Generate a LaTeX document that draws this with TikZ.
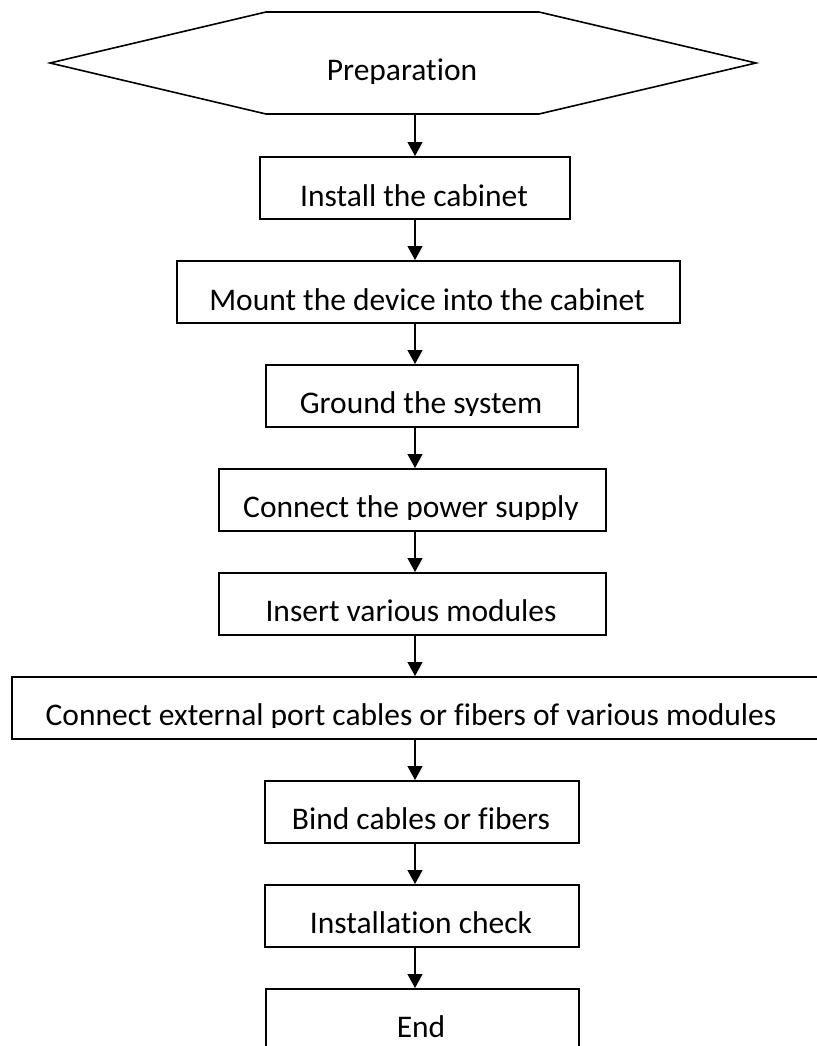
\documentclass[tikz,border=0pt]{standalone}
\usepackage{fontspec}
\setmainfont{Carlito}[Ligatures=NoCommon]
\usetikzlibrary{arrows.meta}
\begin{document}
\begin{tikzpicture}[x=1pt,y=-1pt,
  stepbox/.style={draw=black, line width=1.6pt, inner sep=0pt, anchor=north west},
  txt/.style={anchor=base, inner sep=0pt, font=\fontsize{31.5}{38}\selectfont},
  arr/.style={line width=1.3pt, -{Triangle[width=15pt,length=14pt]}}]
\useasboundingbox (0,0) rectangle (816,1046);
\fill[white] (0,0) rectangle (816,1046);
% start hexagon
\draw[line width=1.6pt, line join=miter] (50,63) -- (266,12) -- (539,12) -- (756,63) -- (539,114) -- (266,114) -- cycle;
\coordinate (prep) at (415,114);
\coordinate (axis) at (415,0);
% boxes
\node[stepbox, minimum width=310pt, minimum height=62pt] (install) at (259,156) {};
\node[stepbox, minimum width=503pt, minimum height=62pt] (mount) at (176,260) {};
\node[stepbox, minimum width=312pt, minimum height=62pt] (ground) at (265,364) {};
\node[stepbox, minimum width=387pt, minimum height=62pt] (power) at (218,468) {};
\node[stepbox, minimum width=387pt, minimum height=62pt] (insert) at (218,572) {};
\node[stepbox, minimum width=809pt, minimum height=62pt] (ext) at (11,676) {};
\node[stepbox, minimum width=314pt, minimum height=62pt] (bind) at (264,780) {};
\node[stepbox, minimum width=314pt, minimum height=62pt] (check) at (264,884) {};
\node[stepbox, minimum width=313pt, minimum height=62pt] (end) at (265,988) {};
% texts (descenders cut at the text frame as in the reference)
\begin{scope}
\clip (50,12) rectangle (756,83.5)
      (259,156) rectangle (569,208.5)
      (176,260) rectangle (679,312.5)
      (265,364) rectangle (577,415.5)
      (218,468) rectangle (605,519.5)
      (218,572) rectangle (605,623.5)
      (11,676) rectangle (820,727.5)
      (264,780) rectangle (578,831.5)
      (264,884) rectangle (578,935.5)
      (265,988) rectangle (578,1039.5);
\node[txt] (t0) at (402,81) {Preparation};
\node[txt] (t1) at (414,206) {Install the cabinet};
\node[txt] (t2) at (427,310) {Mount the device into the cabinet};
\node[txt] (t3) at (421,413) {Ground the system};
\node[txt] (t4) at (411,517) {Connect the power supply};
\node[txt] (t5) at (411,621) {Insert various modules};
\node[txt] (t6) at (411,725) {Connect external port cables or fibers of various modules};
\node[txt] (t7) at (421,829) {Bind cables or fibers};
\node[txt] (t8) at (421,933) {Installation check};
\node[txt] (t9) at (421,1037) {End};
\end{scope}
% connectors
\draw[arr] (prep) -- (install.north -| axis);
\draw[arr] (install.south -| axis) -- (mount.north -| axis);
\draw[arr] (mount.south -| axis) -- (ground.north -| axis);
\draw[arr] (ground.south -| axis) -- (power.north -| axis);
\draw[arr] (power.south -| axis) -- (insert.north -| axis);
\draw[arr] (insert.south -| axis) -- (ext.north -| axis);
\draw[arr] (ext.south -| axis) -- (bind.north -| axis);
\draw[arr] (bind.south -| axis) -- (check.north -| axis);
\draw[arr] (check.south -| axis) -- (end.north -| axis);
\end{tikzpicture}
\end{document}
